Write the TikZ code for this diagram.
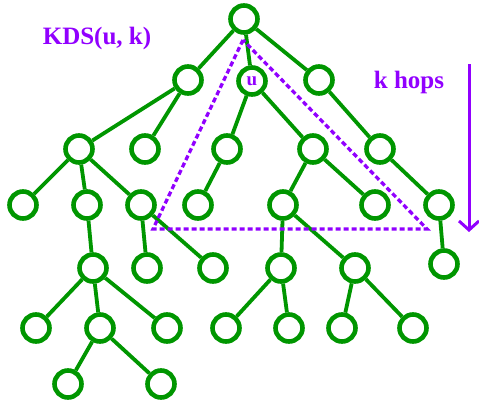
\documentclass[tikz,border=0pt]{standalone}
\usepackage{fontspec}
\setmainfont{Liberation Serif}
\usetikzlibrary{arrows.meta}
\definecolor{tgreen}{RGB}{0,150,0}
\definecolor{tpurple}{RGB}{145,0,255}
\tikzset{
  vert/.style={circle, draw=tgreen, line width=4.6pt, fill=white, minimum size=27pt, inner sep=0pt},
  edge/.style={draw=tgreen, line width=3.8pt},
  tri/.style={draw=tpurple, line width=3.3pt, dash pattern=on 5pt off 3pt},
  lbl/.style={text=tpurple, font=\bfseries\fontsize{25}{30}\selectfont, inner sep=0pt},
}
\begin{document}
\begin{tikzpicture}[x=1pt,y=-1pt]
\useasboundingbox (0,0) rectangle (479,402);
% nodes
\node[vert] (r) at (244,19) {};
\node[vert] (a) at (188,80) {};
\node[vert] (u) at (252,81) {};
\node[vert] (c) at (319,80) {};
\node[vert] (d) at (79,149) {};
\node[vert] (e) at (145,149) {};
\node[vert] (f) at (227,149) {};
\node[vert] (g) at (313,149) {};
\node[vert] (h) at (380,149) {};
\node[vert] (i) at (23,205) {};
\node[vert] (j) at (87,205) {};
\node[vert] (k) at (141,205) {};
\node[vert] (l) at (198,205) {};
\node[vert] (m) at (283,205) {};
\node[vert] (n) at (375,205) {};
\node[vert] (o) at (439,205) {};
\node[vert] (p) at (93,268) {};
\node[vert] (q) at (147,268) {};
\node[vert] (rr) at (213,268) {};
\node[vert] (s) at (281,268) {};
\node[vert] (t) at (355,268) {};
\node[vert] (uu) at (444,264) {};
\node[vert] (v) at (36,328) {};
\node[vert] (w) at (100,328) {};
\node[vert] (x) at (167,328) {};
\node[vert] (y) at (226,328) {};
\node[vert] (z) at (289,328) {};
\node[vert] (aa) at (342,328) {};
\node[vert] (ab) at (413,328) {};
\node[vert] (ac) at (68,384) {};
\node[vert] (ad) at (161,384) {};
% edges
\foreach \s/\e in {r/a,r/u,r/c,a/d,a/e,u/f,u/g,c/h,d/i,d/j,d/k,f/l,g/m,g/n,h/o,j/p,k/q,k/rr,m/s,m/t,o/uu,p/v,p/w,p/x,s/y,s/z,t/aa,t/ab,w/ac,w/ad}
  \draw[edge] (\s) -- (\e);
\node[text=tpurple, font=\bfseries\fontsize{19}{22}\selectfont, inner sep=0pt] at (u) {u};
% triangle
\coordinate (t1) at (243,40);
\coordinate (t2) at (153,229);
\coordinate (t3) at (427,229);
\draw[tri] (t1) -- (t2) -- (t3) -- cycle;
% arrow
\coordinate (atop) at (469,64);
\coordinate (abot) at (469,232);
\draw[tpurple, line width=3pt, -{Straight Barb[length=9pt,width=20pt,line width=3pt]}] (atop) -- (abot);
% labels
\node[lbl, anchor=base] (kds) at (97,44) {KDS(u, k)};
\node[lbl, anchor=base] (hops) at (409,88) {k hops};
\end{tikzpicture}
\end{document}
